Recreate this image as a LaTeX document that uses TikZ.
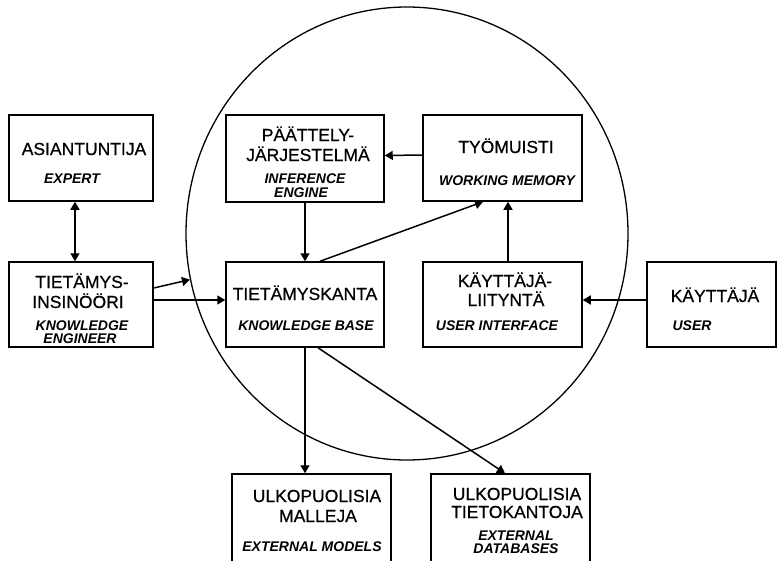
\documentclass[tikz,border=0pt]{standalone}
\usepackage{fontspec}
\setmainfont{Liberation Sans}
\newfontfamily\labelfont{Liberation Sans}[FakeBold=0.6]
\usetikzlibrary{arrows.meta,shapes.geometric}

\tikzset{
  box/.style={draw, line width=1.5pt, inner sep=0pt},
  conn/.style={line width=1.5pt, -{Triangle[length=8pt,width=9pt]}},
  biconn/.style={line width=1.5pt, {Triangle[length=8pt,width=9pt]}-{Triangle[length=8pt,width=9pt]}},
  fi/.style={anchor=base, inner sep=0pt, font=\labelfont\fontsize{17.5}{20}\selectfont},
  en/.style={anchor=base, inner sep=0pt, font=\fontsize{14}{12}\selectfont\bfseries\itshape},
}

\begin{document}
\begin{tikzpicture}[x=1pt, y=-1pt]
  \useasboundingbox (0,0) rectangle (778,560);
  \clip (0,0) rectangle (778,560);

  % the expert system boundary
  \node[draw, ellipse, line width=1.3pt, inner sep=0pt,
        minimum width=442pt, minimum height=453pt] (sys) at (407,233.5) {};

  % boxes
  \node[box, minimum width=144pt, minimum height=86pt] (exp)  at (81,158)    {};
  \node[box, minimum width=144pt, minimum height=85pt] (ke)   at (81,304.5)  {};
  \node[box, minimum width=158pt, minimum height=87pt] (ie)   at (305,158.5) {};
  \node[box, minimum width=159pt, minimum height=86pt] (wm)   at (502.5,158) {};
  \node[box, minimum width=158pt, minimum height=85pt] (kb)   at (305,304.5) {};
  \node[box, minimum width=159pt, minimum height=85pt] (ui)   at (502.5,304.5) {};
  \node[box, minimum width=129pt, minimum height=85pt] (usr)  at (711.5,304.5) {};
  \node[box, minimum width=159pt, minimum height=120pt] (em)  at (311.5,534) {};
  \node[box, minimum width=159pt, minimum height=120pt] (ed)  at (510.5,534) {};

  % labels
  \node[fi] (t1) at (84,155) {ASIANTUNTIJA};
  \node[en] (t2) at (72,183) {EXPERT};

  \node[fi] (t3) at (82,288) {TIETÄMYS-};
  \node[fi] (t4) at (78,308) {INSINÖÖRI};
  \node[en] (t5) at (82,330.5) {KNOWLEDGE};
  \node[en] (t6) at (80,343.5) {ENGINEER};

  \node[fi] (t7) at (308,141) {PÄÄTTELY-};
  \node[fi] (t8) at (308,161) {JÄRJESTELMÄ};
  \node[en] (t9) at (305,183) {INFERENCE};
  \node[en] (t10) at (301,197) {ENGINE};

  \node[fi] (t11) at (506,153) {TYÖMUISTI};
  \node[en] (t12) at (507,185) {WORKING MEMORY};

  \node[fi] (t13) at (305,300) {TIETÄMYSKANTA};
  \node[en] (t14) at (306,330) {KNOWLEDGE BASE};

  \node[fi] (t15) at (505,287) {KÄYTTÄJÄ-};
  \node[fi] (t16) at (506,306) {LIITYNTÄ};
  \node[en] (t17) at (497,330) {USER INTERFACE};

  \node[fi] (t18) at (715,302) {KÄYTTÄJÄ};
  \node[en] (t19) at (692,330) {USER};

  \node[fi] (t20) at (317,502) {ULKOPUOLISIA};
  \node[fi] (t21) at (318,522) {MALLEJA};
  \node[en] (t22) at (312,551) {EXTERNAL MODELS};

  \node[fi] (t23) at (517,500) {ULKOPUOLISIA};
  \node[fi] (t24) at (517,518) {TIETOKANTOJA};
  \node[en] (t25) at (516,540) {EXTERNAL};
  \node[en] (t26) at (516,553) {DATABASES};

  % connectors
  \draw[biconn] ([xshift=-6pt]exp.south) -- ([xshift=-6pt]ke.north);
  \draw[conn] ([yshift=16.5pt]ke.east) -- (sys.192);
  \draw[conn] ([yshift=4.5pt]ke.east) -- ([yshift=4.5pt]kb.west);
  \draw[conn] (ie.south) -- (kb.north);
  \draw[conn] ([yshift=3pt]wm.west) -- ([yshift=3pt]ie.east);
  \draw[conn] ([xshift=15pt]kb.north) -- ([xshift=-19.5pt]wm.south);
  \draw[conn] ([xshift=5.5pt]ui.north) -- ([xshift=5.5pt]wm.south);
  \draw[conn] ([yshift=4.5pt]usr.west) -- ([yshift=4.5pt]ui.east);
  \draw[conn] (kb.south) -- (kb.south |- em.north);
  \draw[conn] ([xshift=13pt]kb.south) -- ([xshift=-5.5pt]ed.north);
\end{tikzpicture}
\end{document}
